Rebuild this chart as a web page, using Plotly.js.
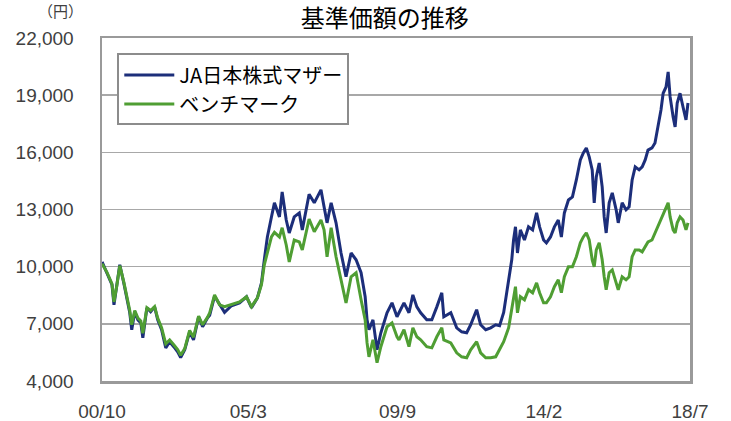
<!DOCTYPE html>
<html>
<head>
<meta charset="utf-8">
<script src="https://cdn.plot.ly/plotly-3.0.1.min.js"></script>
<style>html,body{margin:0;padding:0;background:#fff;}#chart{width:731px;height:421px;}</style>
</head>
<body>
<div id="chart"></div>
<script>
const dates = [
"2000-10-02","2000-11-25","2001-01-19","2001-02-10","2001-03-13","2001-04-15","2001-05-29","2001-07-01","2001-08-03","2001-08-25",
"2001-09-27","2001-11-01","2001-12-03","2001-12-25","2002-02-08","2002-03-21","2002-05-04","2002-06-07","2002-07-20","2002-09-04",
"2002-10-17","2002-12-01","2003-01-13","2003-02-15","2003-04-01","2003-05-25","2003-07-07","2003-09-01","2003-10-15","2003-12-09",
"2004-01-01","2004-02-24","2004-04-19","2004-06-13","2004-08-28","2004-11-25","2005-02-10","2005-04-06","2005-06-10","2005-07-25",
"2005-08-25","2005-09-28","2005-11-12","2005-12-15","2006-02-08","2006-03-10","2006-04-24","2006-05-27","2006-07-21","2006-09-15",
"2006-10-18","2007-01-01","2007-02-27","2007-05-12","2007-06-15","2007-07-18","2007-09-01","2007-10-25","2007-12-19","2008-02-12",
"2008-04-08","2008-06-02","2008-07-27","2008-09-10","2008-10-01","2008-10-22","2008-12-05","2009-01-19","2009-03-02","2009-05-09",
"2009-07-03","2009-08-27","2009-09-18","2009-11-12","2010-01-06","2010-02-18","2010-04-03","2010-05-15","2010-07-21","2010-09-15",
"2010-11-09","2011-01-03","2011-01-25","2011-04-12","2011-06-16","2011-08-10","2011-10-04","2011-11-17","2012-01-22","2012-03-06",
"2012-05-01","2012-06-25","2012-08-19","2012-10-01","2012-11-15","2013-01-09","2013-02-12","2013-03-04","2013-03-25","2013-04-16",
"2013-05-18","2013-07-02","2013-08-16","2013-09-30","2013-11-13","2013-12-16","2014-01-29","2014-03-01","2014-04-15","2014-05-28",
"2014-07-10","2014-08-13","2014-09-15","2014-10-30","2014-12-13","2015-01-25","2015-03-10","2015-04-12","2015-05-15","2015-06-16",
"2015-07-19","2015-08-10","2015-09-02","2015-10-04","2015-11-06","2015-11-28","2015-12-20","2016-01-22","2016-02-25","2016-04-08",
"2016-05-01","2016-06-13","2016-07-26","2016-08-29","2016-10-01","2016-11-04","2016-12-17","2017-01-20","2017-02-22","2017-03-25",
"2017-05-08","2017-06-10","2017-07-13","2017-08-15","2017-09-08","2017-10-10","2017-11-02","2017-11-24","2017-12-27","2018-01-18",
"2018-02-10","2018-03-13","2018-04-15","2018-05-18","2018-06-09"
];
const fundValues = [
10250,9680,9050,8000,8950,10100,9150,8420,7580,6690,
7630,7210,7050,6270,7840,7630,7890,7210,6690,5740,
6060,5800,5530,5230,5640,6580,6160,7370,6850,7320,
7450,8450,8000,7600,7950,8100,8420,7850,8360,9150,
10360,11560,12610,13350,12610,13920,12450,11770,12610,12820,
11930,13800,13350,14030,13140,12300,13350,12300,10720,9470,
10720,10360,9680,8420,7210,6690,7210,5640,6530,7580,
8100,7370,7580,8100,7580,8520,7890,7580,7210,7210,
7890,8630,7370,7580,6790,6580,6530,6950,7740,6950,
6690,6790,6950,6900,7600,9200,10360,11400,12090,10720,
11930,11400,12090,11930,12820,12090,11400,11250,11560,12090,
12450,11560,12820,13500,13660,14550,15600,15970,16230,15760,
15080,13350,14710,15440,14190,12610,11770,13350,13870,12980,
12300,13350,12980,13140,14550,15240,15080,15240,15600,16120,
16230,16490,17330,18220,19100,19430,20220,18910,17860,17330,
18590,19100,18380,17700,18590
];
const benchValues = [
10150,9700,9100,8150,9000,10050,9200,8500,7700,6950,
7700,7300,7150,6500,7850,7700,7900,7300,6800,5950,
6150,5900,5650,5350,5700,6650,6300,7400,6950,7350,
7580,8520,8000,7900,8000,8150,8420,7900,8360,9050,
10100,10720,11560,11800,11560,12040,11140,10250,11400,11300,
10880,12500,11830,12450,11930,10520,12040,10520,9310,8100,
9470,9680,8260,7210,6000,5270,6160,4960,5800,6850,
7050,6320,6160,6690,5800,6790,6320,6160,5800,5740,
6320,6790,6160,6000,5480,5270,5220,5640,6060,5480,
5220,5220,5270,5640,6060,6800,7890,8420,8950,7580,
8420,8260,8790,8630,9150,8630,8100,8100,8420,8950,
9310,8630,9470,9990,9990,10520,11250,11560,11770,11400,
10360,9990,10880,11250,10360,9470,8790,9680,9830,9150,
8790,9470,9310,9470,10520,10880,10880,10780,11040,11300,
11400,11770,12090,12450,12820,13090,13350,12610,11930,11770,
12300,12610,12450,11930,12300
];
const seriesNames = ["JA日本株式マザー", "ベンチマーク"];
const xTickVals = ["2000-10-01", "2005-03-01", "2009-09-01", "2014-02-01", "2018-07-01"];
const xTickText = ["00/10", "05/3", "09/9", "14/2", "18/7"];
const yTickVals = [4000, 7000, 10000, 13000, 16000, 19000, 22000];
const yTickText = ["4,000", "7,000", "10,000", "13,000", "16,000", "19,000", "22,000"];

const traces = [
  {x: dates, y: fundValues, name: seriesNames[0], type: "scatter", mode: "lines",
   line: {color: "#1c2e7a", width: 3}},
  {x: dates, y: benchValues, name: seriesNames[1], type: "scatter", mode: "lines",
   line: {color: "#4f9e33", width: 3}}
];

const layout = {
  width: 731, height: 421,
  margin: {l: 102, r: 41, t: 38, b: 40},
  paper_bgcolor: "#ffffff", plot_bgcolor: "#ffffff",
  showlegend: true,
  title: {text: "基準価額の推移", font: {family: "Noto Sans CJK JP", size: 24, color: "#000"},
          xref: "paper", x: 0.481, xanchor: "center", y: 0.955, yanchor: "middle"},
  xaxis: {type: "date", range: ["2000-10-01", "2018-07-01"],
          tickmode: "array", tickvals: xTickVals, ticktext: xTickText,
          showgrid: false, zeroline: false,
          showline: true, mirror: true, linecolor: "#9a9a9a", linewidth: 2.5,
          ticks: "outside", ticklen: 12, tickcolor: "rgba(0,0,0,0)",
          tickfont: {family: "Liberation Sans Narrow, Liberation Sans, Arial", size: 19, color: "#404040"}},
  yaxis: {range: [4000, 22000], tickmode: "array", tickvals: yTickVals, ticktext: yTickText,
          showgrid: true, gridcolor: "#a8a8a8", gridwidth: 1.5, zeroline: false,
          showline: true, mirror: true, linecolor: "#9a9a9a", linewidth: 2.5,
          ticks: "outside", ticklen: 22, tickcolor: "rgba(0,0,0,0)",
          tickfont: {family: "Liberation Sans, Arial", size: 19, color: "#404040"}},
  legend: {x: 0.026, y: 0.955, xanchor: "left", yanchor: "top",
           bgcolor: "#ffffff", bordercolor: "#8c8c8c", borderwidth: 2,
           itemwidth: 50, tracegroupgap: 0,
           font: {family: "Noto Sans CJK JP", size: 20, color: "#000"}},
  annotations: [{text: "（円）", xref: "paper", yref: "paper", x: -0.071, y: 1.08,
                 xanchor: "center", yanchor: "middle", showarrow: false,
                 font: {family: "Noto Sans CJK JP", size: 15, color: "#404040"}}]
};

Plotly.newPlot("chart", traces, layout, {displayModeBar: false, staticPlot: true});
</script>
</body>
</html>
